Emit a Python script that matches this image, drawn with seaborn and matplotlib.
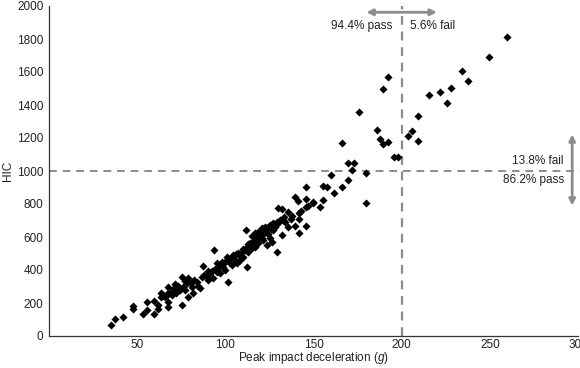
import matplotlib
matplotlib.use("Agg")
import matplotlib.pyplot as plt
import seaborn as sns
import pandas as pd

peak_g = [
    35.2, 37.4, 41.8, 47.4, 47.4, 53.5, 55.4, 55.4, 59.5, 59.5, 61.6, 61.6, 63.5, 64.8, 63.5,
    65.8, 66.7, 67.6, 67.6, 67.6, 67.6,
    69.5, 69.5, 71.4, 72.4, 73.3, 74.3, 75.6, 75.6, 77.1, 77.1, 79.0, 79.0, 80.5, 80.9, 81.8,
    83.7, 84.6, 86.6, 87.1, 85.6, 89.4, 90.3, 92.2, 91.3, 93.1, 93.7, 95.1, 96.0, 96.9, 97.9,
    98.8, 99.8, 101.6,
    70.5, 72.0, 76.0, 78.0, 82.0, 88.0, 90.0, 94.0, 95.0, 97.0, 99.0,
    100.7, 102.6, 103.6, 104.5, 105.4, 106.4, 107.3, 108.3, 109.2, 110.2, 111.1, 112.1, 112.1,
    111.7, 113.0, 114.0, 114.9, 115.8, 116.8, 117.7, 118.7, 119.6, 120.6, 121.5, 122.4, 123.4,
    124.3, 125.3, 126.2, 127.2, 129.1, 130.0, 114.9, 116.8, 118.7, 120.6, 122.4, 125.3, 127.2,
    129.1, 131.0, 132.8,
    101.0, 103.0, 106.0, 108.0, 110.0, 113.0, 117.0, 119.0, 121.0, 124.0, 126.0, 128.0,
    130.0, 131.9, 135.7, 141.7, 141.7, 145.7, 139.5, 135.7, 131.9, 141.7, 139.5, 141.3, 145.7,
    145.7, 149.5, 149.8, 153.6, 145.7, 155.2, 157.4, 155.2, 159.9, 161.7, 166.0, 169.7,
    133.0, 134.0, 137.0, 138.0, 143.0, 147.0,
    166.0, 169.7, 173.1, 171.6, 176.0, 179.7, 179.7, 185.8, 187.6, 189.5, 192.0, 189.5, 192.0,
    195.6, 197.7, 203.7, 205.6, 209.4, 209.4, 215.4, 221.7, 225.5, 227.9, 234.0, 237.5, 249.8,
    260.0,
]
hic = [
    65, 101, 117, 182, 162, 131, 204, 158, 131, 214, 186, 162, 259, 248, 238,
    234, 248, 295, 259, 208, 178,
    269, 248, 315, 289, 303, 279, 359, 188, 335, 279, 350, 238, 319, 299, 259,
    329, 303, 359, 424, 289, 359, 339, 396, 380, 350, 521, 440, 410, 380, 450,
    420, 400, 325,
    285, 260, 300, 320, 340, 370, 395, 405, 385, 430, 440,
    461, 440, 430, 491, 461, 440, 501, 461, 511, 481, 521, 541, 420,
    642, 511, 562, 531, 572, 541, 602, 562, 622, 592, 582, 642, 551,
    662, 592, 572, 642, 511, 682, 606, 622, 632, 652, 660, 673, 683,
    693, 703, 703,
    480, 470, 500, 490, 530, 560, 580, 600, 610, 620, 650, 660,
    778, 768, 749, 747, 707, 668, 667, 662, 612, 622, 844, 818, 828,
    780, 814, 804, 780, 905, 909, 905, 824, 976, 869, 901, 945,
    720, 690, 710, 730, 760, 790,
    1172, 1050, 1050, 1006, 1356, 986, 804, 1248, 1192, 1164, 1174, 1500, 1568,
    1087, 1087, 1212, 1244, 1182, 1335, 1459, 1477, 1414, 1505, 1608, 1547, 1691,
    1814,
]
x_ticks = [50, 100, 150, 200, 250, 300]
y_ticks = list(range(0, 2001, 200))
hic_limit = 1000
g_limit = 200
labels_top = ["94.4% pass", "5.6% fail"]
labels_right = ["13.8% fail", "86.2% pass"]

df = pd.DataFrame({"g": peak_g, "HIC": hic})

sns.set_theme(style="white")
plt.rcParams["font.family"] = ["Liberation Sans", "DejaVu Sans"]
plt.rcParams["mathtext.fontset"] = "custom"
plt.rcParams["mathtext.it"] = "Liberation Sans:italic"
plt.rcParams["mathtext.rm"] = "Liberation Sans"

fig = plt.figure(figsize=(5.8, 3.68), dpi=100)
ax = fig.add_axes([49 / 580, 32 / 368, 529 / 580, 330 / 368])

sns.scatterplot(data=df, x="g", y="HIC", marker="D", color="black", s=17,
                edgecolor="black", linewidth=0, ax=ax, zorder=3)

gray = "#8c8c8c"
ax.axhline(hic_limit, color=gray, ls=(0, (4, 3)), lw=1.4, zorder=1, clip_on=False,
           xmin=0, xmax=1.005)
ax.axvline(g_limit, color=gray, ls=(0, (4, 3)), lw=1.6, zorder=1)

ax.annotate("", xy=(180, 1962), xytext=(220, 1962),
            arrowprops=dict(arrowstyle="<|-|>", color=gray, lw=2, mutation_scale=9,
                            shrinkA=0, shrinkB=0))
ax.text(195, 1880, labels_top[0], ha="right", va="center", fontsize=8.5, color="#222222")
ax.text(205, 1880, labels_top[1], ha="left", va="center", fontsize=8.5, color="#222222")

ax.annotate("", xy=(296.7, 790), xytext=(296.7, 1222),
            arrowprops=dict(arrowstyle="<|-|>", color=gray, lw=2, mutation_scale=9,
                            shrinkA=0, shrinkB=0), annotation_clip=False)
ax.text(292, 1060, labels_right[0], ha="right", va="center", fontsize=8.5, color="#222222")
ax.text(292, 945, labels_right[1], ha="right", va="center", fontsize=8.5, color="#222222")

ax.set_xlim(0, 300)
ax.set_ylim(0, 2000)
ax.set_xticks(x_ticks)
ax.set_yticks(y_ticks)
ax.tick_params(direction="in", length=4, width=0.8, colors="#333333", labelsize=8.5,
               labelcolor="#222222")
ax.tick_params(axis="x", pad=2.5)
ax.tick_params(axis="y", pad=4)
for s in ["top", "right"]:
    ax.spines[s].set_visible(False)
for s in ["left", "bottom"]:
    ax.spines[s].set_color("#333333")
    ax.spines[s].set_linewidth(0.9)

ax.set_xlabel("Peak impact deceleration ($\\mathit{g}$)", fontsize=8.5, color="#222222", labelpad=-1)
ax.set_ylabel("HIC", fontsize=8.5, color="#222222", labelpad=2)

fig.savefig("out.png", dpi=100)
